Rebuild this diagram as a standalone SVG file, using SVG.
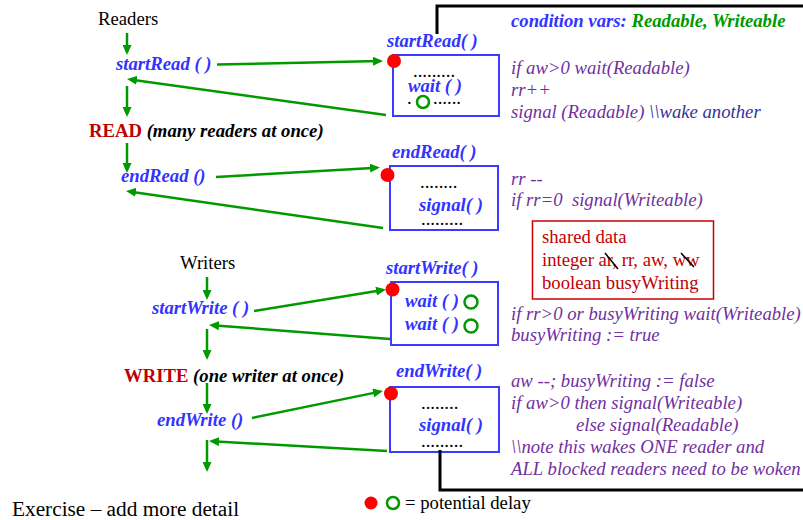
<svg xmlns="http://www.w3.org/2000/svg" width="803" height="520" viewBox="0 0 803 520">
  <defs>
    <marker id="ah" markerUnits="userSpaceOnUse" markerWidth="10" markerHeight="9" refX="7" refY="4.5" orient="auto">
      <path d="M0,0 L10,4.5 L0,9 z" fill="#009900"/>
    </marker>
    <style>
      text { font-family: "Liberation Serif", "Times New Roman", serif; font-size: 18.7px; }
      .blk { fill: #000; }
      .call { fill: #3333FF; font-weight: bold; font-style: italic; }
      .act { fill: #C00000; font-weight: bold; }
      .note { fill: #000; font-weight: bold; font-style: italic; }
      .code { fill: #7030A0; font-style: italic; }
      .cmt { fill: #333399; font-style: italic; }
      .grn { fill: #009900; font-weight: bold; font-style: italic; }
      .box { fill: none; stroke: #3B3BFF; stroke-width: 2; }
      .dot { fill: #FF0000; }
      .ring { fill: none; stroke: #009900; stroke-width: 2.5; }
      .flow { fill: none; stroke: #009900; stroke-width: 2.5; marker-end: url(#ah); }
      .frame { fill: none; stroke: #000; stroke-width: 3; }
      .shared { fill: #C00000; }
    </style>
  </defs>

  <rect width="803" height="520" fill="#fff"/>

  <!-- caller side: readers -->
  <g id="readers"><text class="blk" x="98" y="25">Readers</text></g>
  <g id="start-read-call"><text class="call" x="116" y="70">startRead ( )</text></g>
  <g id="read"><text x="89" y="137"><tspan class="act">READ</tspan><tspan class="note"> (many readers at once)</tspan></text></g>
  <g id="end-read-call"><text class="call" x="121" y="182">endRead ()</text></g>

  <!-- caller side: writers -->
  <g id="writers"><text class="blk" x="180" y="269">Writers</text></g>
  <g id="start-write-call"><text class="call" x="152" y="314">startWrite ( )</text></g>
  <g id="write"><text x="124" y="382"><tspan class="act">WRITE</tspan><tspan class="note"> (one writer at once)</tspan></text></g>
  <g id="end-write-call"><text class="call" x="157" y="426">endWrite ()</text></g>

  <!-- monitor procedures -->
  <g id="start-read-proc">
    <text class="call" x="387" y="47">startRead( )</text>
    <rect class="box" x="393" y="55" width="106" height="61"/>
    <text class="blk" x="413" y="77">.........</text>
    <text class="call" x="408" y="92">wait ( )</text>
    <text class="blk" x="407" y="104">.</text>
    <circle class="ring" cx="423" cy="102" r="6"/>
    <text class="blk" x="433" y="104">......</text>
    <circle class="dot" cx="394" cy="61" r="7"/>
  </g>

  <g id="end-read-proc">
    <text class="call" x="392" y="158">endRead( )</text>
    <rect class="box" x="390" y="166" width="108" height="64"/>
    <text class="blk" x="420" y="188">........</text>
    <text class="call" x="419" y="211">signal( )</text>
    <text class="blk" x="421" y="225">.........</text>
    <circle class="dot" cx="387.5" cy="175" r="7"/>
  </g>

  <g id="start-write-proc">
    <text class="call" x="386" y="274">startWrite( )</text>
    <rect class="box" x="391" y="282" width="107" height="63"/>
    <text class="call" x="405" y="307">wait ( )</text>
    <circle class="ring" cx="471" cy="302" r="6.5"/>
    <text class="call" x="405" y="330">wait ( )</text>
    <circle class="ring" cx="471" cy="326" r="6.5"/>
    <circle class="dot" cx="392.5" cy="289.5" r="7"/>
  </g>

  <g id="end-write-proc">
    <text class="call" x="396" y="377">endWrite( )</text>
    <rect class="box" x="390" y="387" width="109" height="65"/>
    <text class="blk" x="421" y="409">........</text>
    <text class="call" x="419" y="431">signal( )</text>
    <text class="blk" x="421" y="447">.........</text>
    <circle class="dot" cx="391" cy="393.5" r="7"/>
  </g>

  <!-- procedure bodies -->
  <g id="condition-vars">
    <text x="511" y="27"><tspan class="call">condition vars: </tspan><tspan class="grn">Readable, Writeable</tspan></text>
  </g>
  <g id="start-read-code">
    <text class="code" x="511" y="73.5">if aw&gt;0 wait(Readable)</text>
    <text class="code" x="511" y="95.5">rr++</text>
    <text x="511" y="117.5"><tspan class="code">signal (Readable) </tspan><tspan class="cmt">\\wake another</tspan></text>
  </g>
  <g id="end-read-code">
    <text class="code" x="511" y="185">rr --</text>
    <text class="code" x="511" y="206" xml:space="preserve">if rr=0  signal(Writeable)</text>
  </g>
  <g id="start-write-code">
    <text class="code" x="511" y="319.5">if rr&gt;0 or busyWriting wait(Writeable)</text>
    <text class="code" x="511" y="341">busyWriting := true</text>
  </g>
  <g id="end-write-code">
    <text class="code" x="511" y="387">aw --; busyWriting := false</text>
    <text class="code" x="511" y="408.5">if aw&gt;0 then signal(Writeable)</text>
    <text class="code" x="576" y="431">else signal(Readable)</text>
    <text class="code" x="511" y="453">\\note this wakes ONE reader and</text>
    <text class="code" x="511" y="475">ALL blocked readers need to be woken</text>
  </g>

  <g id="shared-data">
    <rect x="532.5" y="221" width="181" height="78" fill="#fff" stroke="#CC0000" stroke-width="1.5"/>
    <text class="shared" x="542" y="243">shared data</text>
    <text class="shared" x="542" y="266">integer ar, rr, aw, ww</text>
    <text class="shared" x="542" y="288.5">boolean busyWriting</text>
    <path d="M605,253 L618,269 M681,253 L694,267" stroke="#000" stroke-width="1.5" fill="none"/>
  </g>

  <g id="legend">
    <circle class="dot" cx="371" cy="503" r="6.5"/>
    <circle class="ring" cx="393" cy="503" r="6"/>
    <text class="blk" x="405" y="508.5">= potential delay</text>
  </g>

  <g id="exercise"><text class="blk" x="12" y="516" style="font-size:21.3px">Exercise – add more detail</text></g>

  <!-- connectors -->
  <g id="connectors">
    <path class="frame" d="M437,34 L437,6 L803,6"/>
    <path class="frame" d="M440,450 L440,490 L803,490" stroke-width="2.5"/>

    <path class="flow" d="M127,33 L127,52"/>
    <path class="flow" d="M217,64.5 L380,61.1"/>
    <path class="flow" d="M386,115 L130,79.4"/>
    <path class="flow" d="M127,86 L127,114"/>
    <path class="flow" d="M127,143 L127,170"/>
    <path class="flow" d="M216,177 L377,167.7"/>
    <path class="flow" d="M383,228 L129,191.4"/>

    <path class="flow" d="M207,277 L207,297"/>
    <path class="flow" d="M254,311 L383,290"/>
    <path class="flow" d="M390,339 L212,325.2"/>
    <path class="flow" d="M207,329 L207,357"/>
    <path class="flow" d="M207,383 L207,411"/>
    <path class="flow" d="M252,418 L380,391.6"/>
    <path class="flow" d="M387,451 L212,441.2"/>
    <path class="flow" d="M207,440 L207,469"/>
  </g>
</svg>
